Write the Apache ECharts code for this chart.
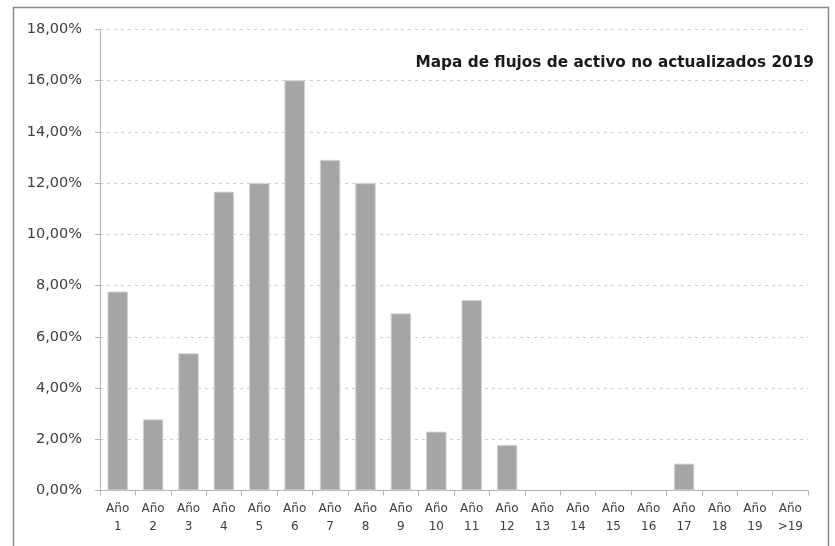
<!DOCTYPE html>
<html>
<head>
<meta charset="utf-8">
<script src="https://cdn.jsdelivr.net/npm/echarts@6/dist/echarts.min.js"></script>
<style>html,body{margin:0;padding:0;background:#fff}#c{width:835px;height:546px}</style>
</head>
<body>
<div id="c"></div>
<script>
var categories = ['Año\n1','Año\n2','Año\n3','Año\n4','Año\n5','Año\n6','Año\n7','Año\n8','Año\n9','Año\n10','Año\n11','Año\n12','Año\n13','Año\n14','Año\n15','Año\n16','Año\n17','Año\n18','Año\n19','Año\n>19'];
var values = [7.77, 2.78, 5.36, 11.67, 12.0, 16.02, 12.91, 12.0, 6.92, 2.30, 7.44, 1.78, 0, 0, 0, 0, 1.05, 0, 0, 0];
var yTicks = { min: 0, max: 18, interval: 2 };
var titleText = 'Mapa de flujos de activo no actualizados 2019';

var barData = values.map(function (v) {
  return v === 0 ? { value: v, itemStyle: { borderWidth: 0 } } : v;
});

var chart = echarts.init(document.getElementById('c'));
chart.setOption({
  animation: false,
  backgroundColor: '#fff',
  graphic: [{
    type: 'rect', shape: { x: 13.5, y: 7.5, width: 815, height: 600 },
    style: { fill: 'none', stroke: '#8c8c8c', lineWidth: 1.5 }, z: 100
  }],
  title: {
    text: titleText, right: 16, top: 51,
    textStyle: { fontFamily: 'DejaVu Sans', fontWeight: 'bold', fontSize: 15.3, color: '#1a1a1a' }
  },
  grid: { left: 100, right: 27, top: 29.5, bottom: 55.5, containLabel: false },
  xAxis: {
    type: 'category', data: categories,
    axisLine: { lineStyle: { color: '#b4b4b4', width: 1 } },
    axisTick: { show: true, length: 5, alignWithLabel: false, lineStyle: { color: '#b4b4b4' } },
    axisLabel: { interval: 0, fontFamily: 'DejaVu Sans', fontSize: 12, color: '#404040', lineHeight: 18, margin: 9 }
  },
  yAxis: {
    type: 'value', min: yTicks.min, max: yTicks.max, interval: yTicks.interval,
    axisLine: { show: true, lineStyle: { color: '#b4b4b4', width: 1 } },
    axisTick: { show: true, length: 5, lineStyle: { color: '#b4b4b4' } },
    splitLine: { show: true, lineStyle: { color: '#cfcfcf', type: [3, 4], width: 1 } },
    axisLabel: {
      fontFamily: 'DejaVu Sans', fontSize: 14.5, color: '#404040', margin: 18,
      formatter: function (v) { return v.toFixed(2).replace('.', ',') + '%'; }
    }
  },
  series: [{
    type: 'bar', data: barData, barCategoryGap: '42%',
    itemStyle: { color: '#a5a5a5', borderColor: '#d4d4d4', borderWidth: 1 },
    emphasis: { disabled: true }
  }]
});
</script>
</body>
</html>
